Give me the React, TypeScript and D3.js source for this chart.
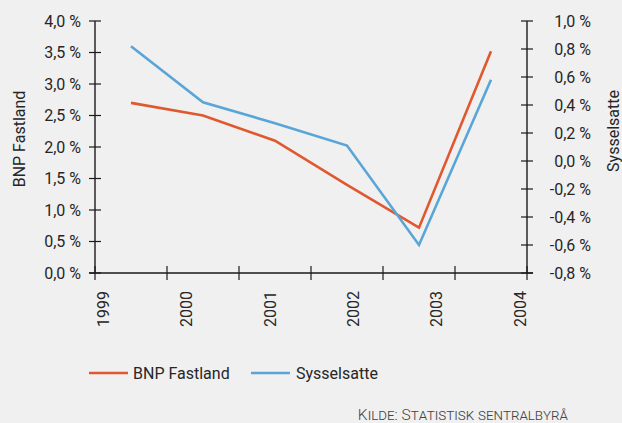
import React from "react";
import * as d3 from "d3";

const categories = ["1999", "2000", "2001", "2002", "2003", "2004"];
const yearLabels = [1999, 2000, 2001, 2002, 2003, 2004];
const bnpFastland = [2.7, 2.5, 2.1, 1.4, 0.72, 3.52];
const sysselsatte = [0.82, 0.42, 0.27, 0.11, -0.6, 0.58];
const leftTicks = [0, 0.5, 1, 1.5, 2, 2.5, 3, 3.5, 4];
const rightTicks = [-0.8, -0.6, -0.4, -0.2, 0, 0.2, 0.4, 0.6, 0.8, 1.0];

const W = 622;
const H = 423;
const left = 95;
const right = 527;
const top = 21;
const bottom = 273;
const FONT = "Roboto, 'DejaVu Sans', sans-serif";
const ORANGE = "#e0582f";
const BLUE = "#5aa5d8";
const AXIS = "#1a1a1a";
const TEXT = "#262626";
const FS = 16;
const FW = 400;

const fmt = (v: number, d: number) => v.toFixed(d).replace(".", ",") + " %";

export default function App() {
  const x = d3.scaleBand<string>().domain(categories).range([left, right]);
  const xLabel = d3.scaleLinear().domain([1999, 2004]).range([103, 520]);
  const yL = d3.scaleLinear().domain([0, 4]).range([bottom, top]);
  const yR = d3.scaleLinear().domain([-0.8, 1.0]).range([bottom, top]);
  const cx = (i: number) => (x(categories[i]) as number) + x.bandwidth() / 2;

  const lineL = d3
    .line<number>()
    .x((_, i) => cx(i))
    .y((d) => yL(d));
  const lineR = d3
    .line<number>()
    .x((_, i) => cx(i))
    .y((d) => yR(d));

  const edges = categories.map((c) => x(c) as number).concat([right]);

  return (
    <svg
      width={W}
      height={H}
      style={{ position: "absolute", left: 0, top: 0, display: "block" }}
      fontFamily={FONT}
      fontWeight={FW}
    >
      <rect x={0} y={0} width={W} height={H} fill="#f0f0f0" />

      {/* left axis */}
      <line x1={left} x2={left} y1={top} y2={bottom} stroke={AXIS} strokeWidth={1.4} />
      {leftTicks.map((t) => (
        <g key={"l" + t}>
          <line x1={left - 6} x2={left + 6} y1={yL(t)} y2={yL(t)} stroke={AXIS} strokeWidth={1.2} />
          <text x={81} y={yL(t)} dy="0.36em" textAnchor="end" fontSize={FS} fill={TEXT}>
            {fmt(t, 1)}
          </text>
        </g>
      ))}

      {/* right axis */}
      <line x1={right} x2={right} y1={top} y2={bottom} stroke={AXIS} strokeWidth={1.4} />
      {rightTicks.map((t) => (
        <g key={"r" + t}>
          <line x1={right - 6} x2={right + 6} y1={yR(t)} y2={yR(t)} stroke={AXIS} strokeWidth={1.2} />
          <text x={591} y={yR(t)} dy="0.36em" textAnchor="end" fontSize={FS} fill={TEXT}>
            {fmt(t, 1)}
          </text>
        </g>
      ))}

      {/* bottom axis */}
      <line x1={left - 6} x2={right + 6} y1={bottom} y2={bottom} stroke={AXIS} strokeWidth={1.4} />
      {edges.map((e, i) => (
        <line key={"e" + i} x1={e} x2={e} y1={bottom - 7} y2={bottom + 7} stroke={AXIS} strokeWidth={1.2} />
      ))}
      {yearLabels.map((yr) => (
        <text
          key={yr}
          transform={`translate(${xLabel(yr)},${291}) rotate(-90)`}
          textAnchor="end"
          dy="0.36em"
          fontSize={FS}
          fill={TEXT}
        >
          {yr}
        </text>
      ))}

      {/* axis titles */}
      <text transform={`translate(19,139) rotate(-90)`} textAnchor="middle" dy="0.36em" fontSize={FS} fill={TEXT}>
        BNP Fastland
      </text>
      <text transform={`translate(613,131) rotate(-90)`} textAnchor="middle" dy="0.36em" fontSize={FS} fill={TEXT}>
        Sysselsatte
      </text>

      {/* lines */}
      <path d={lineL(bnpFastland) || ""} fill="none" stroke={ORANGE} strokeWidth={2.6} />
      <path d={lineR(sysselsatte) || ""} fill="none" stroke={BLUE} strokeWidth={2.6} />

      {/* legend */}
      <line x1={89} x2={128} y1={373} y2={373} stroke={ORANGE} strokeWidth={2.6} />
      <text x={133} y={373} dy="0.36em" fontSize={FS} fill={TEXT}>
        BNP Fastland
      </text>
      <line x1={251} x2={290} y1={373} y2={373} stroke={BLUE} strokeWidth={2.6} />
      <text x={296} y={373} dy="0.36em" fontSize={FS} fill={TEXT}>
        Sysselsatte
      </text>

      {/* source */}
      <text x={568} y={420} textAnchor="end" fontSize={15.5} fontWeight={300} fill="#444" style={{ fontVariant: "small-caps" }}>
        Kilde: Statistisk sentralbyrå
      </text>
    </svg>
  );
}
